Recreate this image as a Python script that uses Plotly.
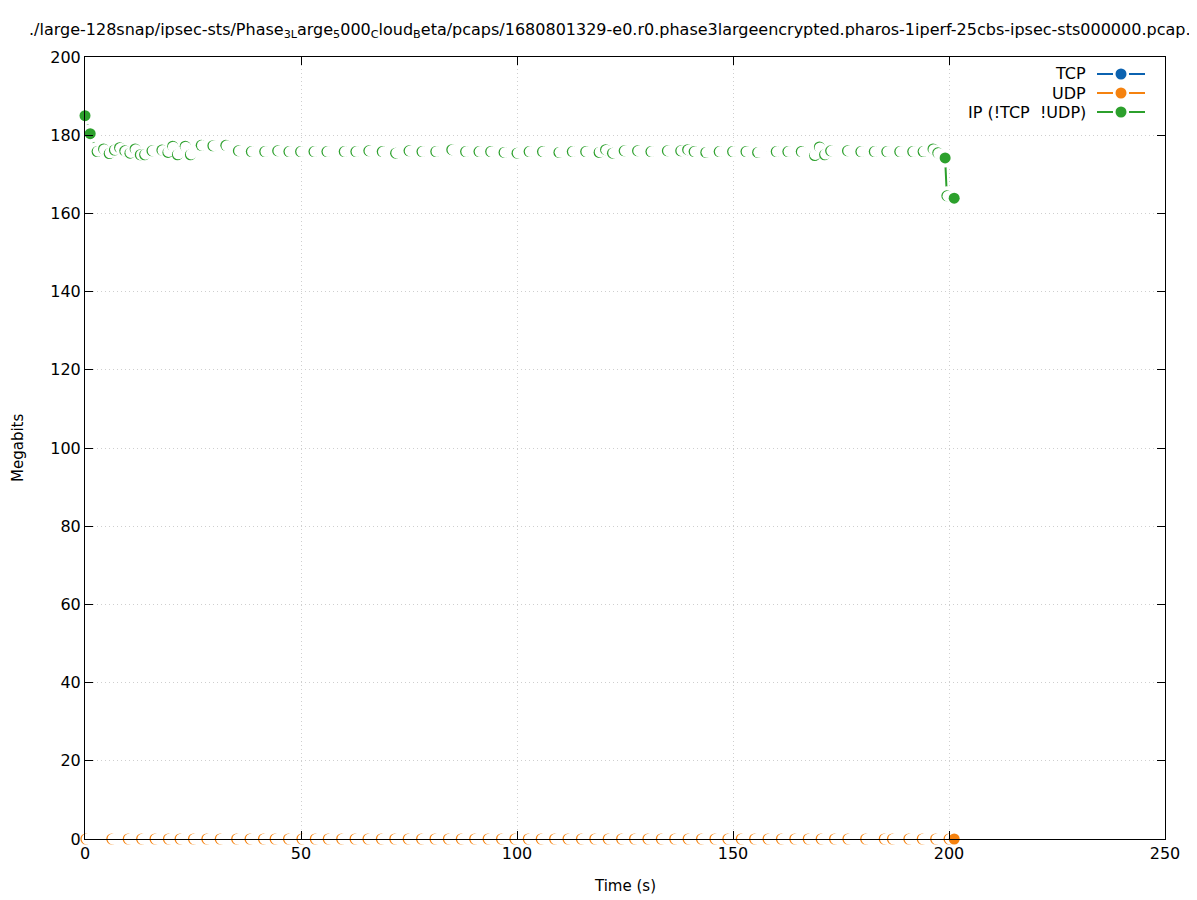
import math
import plotly.graph_objects as go

# ---------------- data ----------------
x_tick_vals = [0, 50, 100, 150, 200, 250]
y_tick_vals = [0, 20, 40, 60, 80, 100, 120, 140, 160, 180, 200]

series_names = ["TCP", "UDP", "IP (!TCP  !UDP)"]

tcp_time = []
tcp_mbps = []

udp_time = [0.2, 6.2, 10.0, 13.1, 16.2, 19.3, 22.0, 25.1, 28.2, 31.3, 35.1, 38.2, 41.3, 44.0,
            47.1, 50.2, 53.3, 56.3, 59.4, 62.5, 65.5, 68.6, 71.7, 74.8, 77.9, 81.0, 84.1, 87.1,
            90.2, 93.3, 96.4, 99.5, 102.6, 105.6, 108.7, 111.8, 114.9, 118.0, 121.1, 124.2,
            127.2, 130.3, 133.4, 136.5, 139.6, 142.7, 145.8, 148.8, 151.9, 155.0, 158.1, 161.2,
            164.3, 167.4, 170.4, 173.5, 176.6, 180.7, 185.0, 186.9, 190.7, 193.8, 196.9, 200.0,
            201.2]
udp_mbps = [0, 0, 0, 0, 0, 0, 0, 0, 0, 0, 0, 0, 0, 0, 0, 0, 0, 0, 0, 0, 0, 0, 0, 0, 0, 0, 0, 0,
            0, 0, 0, 0, 0, 0, 0, 0, 0, 0, 0, 0, 0, 0, 0, 0, 0, 0, 0, 0, 0, 0, 0, 0, 0, 0, 0, 0,
            0, 0, 0, 0, 0, 0, 0, 0, 0]

ip_time = [0.0, 1.2, 2.8, 4.3, 5.6, 6.8, 8.0, 9.2, 10.4, 11.6, 12.8, 13.8, 15.5, 17.8, 19.2,
           20.3, 21.4, 23.2, 24.4, 26.9, 29.6, 32.6, 35.5, 38.5, 41.6, 44.6, 47.2, 49.9, 53.0,
           56.0, 60.0, 62.7, 65.7, 68.8, 71.9, 75.0, 78.0, 81.2, 84.9, 88.1, 91.2, 93.9, 97.0,
           100.0, 102.8, 105.9, 109.7, 112.8, 115.9, 119.0, 120.5, 122.1, 124.8, 127.9, 131.0,
           134.8, 137.9, 139.5, 141.0, 143.7, 146.8, 149.9, 153.0, 155.7, 160.0, 162.7, 165.8,
           168.9, 170.0, 171.2, 172.6, 176.5, 179.6, 182.7, 185.6, 188.6, 191.6, 194.0, 196.3,
           197.4, 199.1, 199.5, 201.2]
ip_mbps = [185.0, 180.4, 175.8, 176.5, 175.3, 176.2, 176.8, 176.0, 175.4, 176.5, 175.0, 175.0,
           176.0, 176.2, 175.6, 177.2, 175.0, 177.2, 175.0, 177.4, 177.3, 177.4, 176.0, 175.8,
           175.8, 176.0, 175.8, 175.8, 175.8, 175.8, 175.8, 175.8, 176.0, 175.8, 175.4, 176.0,
           175.8, 175.8, 176.3, 175.8, 175.8, 175.8, 175.6, 175.4, 175.8, 175.8, 175.6, 175.8,
           175.8, 175.6, 176.3, 175.4, 176.0, 176.0, 175.8, 176.0, 176.0, 176.3, 175.8, 175.6,
           175.8, 175.8, 175.8, 175.6, 175.8, 175.8, 175.8, 174.8, 177.0, 175.0, 176.0, 176.0,
           175.8, 175.8, 175.8, 175.8, 175.8, 175.8, 176.5, 175.5, 174.2, 164.5, 163.9]

colors = ["#0b62b0", "#f5820f", "#2ca02c"]

# ---------------- layout geometry (picture pixels) ----------------
PAGE_OFF = 8                      # default body margin of the html page
PIC_W, PIC_H = 1197, 900
PL, PR, PT, PB = 85, 1165, 57, 839  # plot area edges in picture pixels
PW, PH = PR - PL, PB - PT
W, H = PIC_W - PAGE_OFF, PIC_H - PAGE_OFF
XMAX, YMAX = 250, 200
SX, SY = PW / XMAX, PH / YMAX
FONT = "DejaVu Sans"
FS = 16


def xp(px):
    return (px - PL) / PW


def yp(py):
    return (PB - py) / PH


def crescent_layers(xs, ys, color):
    """Each point followed by a slightly shifted white cover (gnuplot look)."""
    mx, my, mc = [], [], []
    for i, (x, y) in enumerate(zip(xs, ys)):
        mx.append(x); my.append(y); mc.append(color)
        if i + 1 < len(xs):
            dx = (xs[i + 1] - x) * SX
            dy = (ys[i + 1] - y) * SY
            if abs(dy) < 10:
                d = math.hypot(dx, dy)
                ux, uy = (dx / d, dy / d) if d > 0 else (1.0, 0.0)
                mx.append(x + 1.25 * ux / SX)
                my.append(y + 1.25 * uy / SY)
                mc.append("white")
    return mx, my, mc


fig = go.Figure()

all_series = [(tcp_time, tcp_mbps), (udp_time, udp_mbps), (ip_time, ip_mbps)]
for (xs, ys), col in zip(all_series, colors):
    if not xs:
        continue
    if any(v != 0 for v in ys):   # a line lying on the x axis is hidden by the border
        fig.add_trace(go.Scatter(x=xs, y=ys, mode="lines", line=dict(color=col, width=2),
                                 cliponaxis=False, showlegend=False, hoverinfo="skip"))
    fig.add_trace(go.Scatter(x=xs, y=ys, mode="markers",
                             marker=dict(color="white", size=19, line=dict(width=0)),
                             cliponaxis=False, showlegend=False, hoverinfo="skip"))
    mx, my, mc = crescent_layers(xs, ys, col)
    fig.add_trace(go.Scatter(x=mx, y=my, mode="markers",
                             marker=dict(color=mc, size=11, line=dict(width=0)),
                             cliponaxis=False, showlegend=False, hoverinfo="skip"))

# ---------------- custom legend (gnuplot style) ----------------
legend_y = [74, 93, 112]
shapes = []
annotations = []
for name, col, ly in zip(series_names, colors, legend_y):
    annotations.append(dict(text=name, x=xp(1088), y=yp(ly), xref="paper", yref="paper",
                            xanchor="right", yanchor="middle", showarrow=False,
                            font=dict(family=FONT, size=FS, color="black")))
    shapes.append(dict(type="line", xref="paper", yref="paper", x0=xp(1097), x1=xp(1113),
                       y0=yp(ly), y1=yp(ly), line=dict(color=col, width=2)))
    shapes.append(dict(type="line", xref="paper", yref="paper", x0=xp(1129), x1=xp(1145),
                       y0=yp(ly), y1=yp(ly), line=dict(color=col, width=2)))
    shapes.append(dict(type="circle", xref="paper", yref="paper", x0=xp(1115.5), x1=xp(1126.5),
                       y0=yp(ly + 5.5), y1=yp(ly - 5.5), fillcolor=col, line=dict(width=0)))

title_text = ("./large-128snap/ipsec-sts/Phase<sub>3L</sub>arge<sub>5</sub>000<sub>C</sub>"
              "loud<sub>B</sub>eta/pcaps/1680801329-e0.r0.phase3largeencrypted.pharos-1iperf-"
              "25cbs-ipsec-sts000000.pcap.csv")
annotations.append(dict(text=title_text, x=xp(27), y=yp(30), xref="paper", yref="paper",
                        xanchor="left", yanchor="middle", showarrow=False,
                        font=dict(family=FONT, size=FS, color="black")))
annotations.append(dict(text="Megabits", x=xp(18), y=yp(448), xref="paper", yref="paper",
                        xanchor="center", yanchor="middle", textangle=-90, showarrow=False,
                        font=dict(family=FONT, size=FS - 1, color="black")))
annotations.append(dict(text="Time (s)", x=xp(625), y=yp(886), xref="paper", yref="paper",
                        xanchor="center", yanchor="middle", showarrow=False,
                        font=dict(family=FONT, size=FS - 1, color="black")))

axis_common = dict(showline=True, linecolor="black", linewidth=1, mirror="ticks",
                   ticks="inside", ticklen=8, tickwidth=1, tickcolor="black",
                   showgrid=True, gridcolor="#cfcfcf", griddash="1px,3px", gridwidth=1,
                   zeroline=False, layer="above traces",
                   tickfont=dict(family=FONT, size=FS, color="black"))

fig.update_layout(
    width=W, height=H, autosize=False,
    margin=dict(l=PL - PAGE_OFF, r=PIC_W - PR, t=PT - PAGE_OFF, b=PIC_H - PB, pad=0),
    paper_bgcolor="white", plot_bgcolor="white",
    showlegend=False,
    xaxis=dict(range=[0, XMAX], tickvals=x_tick_vals, **axis_common),
    yaxis=dict(range=[0, YMAX], tickvals=y_tick_vals, **axis_common),
    shapes=shapes, annotations=annotations,
)

fig.write_html("out.html")
